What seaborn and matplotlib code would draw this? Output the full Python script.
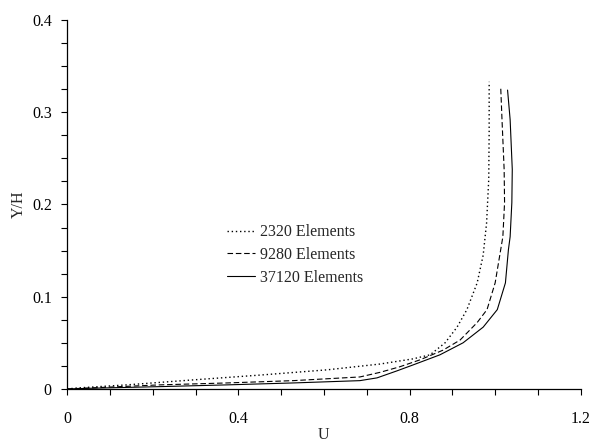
import matplotlib
matplotlib.use("Agg")
import matplotlib.pyplot as plt
import seaborn as sns
import pandas as pd
from matplotlib.ticker import MultipleLocator

# Data (U, Y/H)
u_2320 = [0.0, 0.022, 0.139, 0.294, 0.45, 0.607, 0.731, 0.808, 0.848, 0.883, 0.911, 0.934, 0.958, 0.972, 0.980, 0.985, 0.986, 0.986]
y_2320 = [0.0, 0.001, 0.0044, 0.0098, 0.015, 0.0207, 0.027, 0.0326, 0.037, 0.050, 0.067, 0.086, 0.115, 0.145, 0.18, 0.227, 0.28, 0.333]

u_9280 = [0.0, 0.06, 0.216, 0.373, 0.528, 0.684, 0.731, 0.777, 0.824, 0.878, 0.918, 0.958, 0.981, 1.0, 1.009, 1.018, 1.022, 1.021, 1.016, 1.013]
y_9280 = [0.0, 0.0012, 0.0044, 0.0065, 0.009, 0.013, 0.018, 0.024, 0.0315, 0.042, 0.053, 0.072, 0.086, 0.115, 0.140, 0.165, 0.202, 0.238, 0.292, 0.327]

u_37120 = [0.0, 0.06, 0.216, 0.373, 0.528, 0.684, 0.724, 0.77, 0.808, 0.871, 0.925, 0.972, 1.005, 1.024, 1.031, 1.035, 1.039, 1.040, 1.035, 1.029]
y_37120 = [0.0, 0.0008, 0.0025, 0.0044, 0.0065, 0.009, 0.012, 0.0195, 0.026, 0.037, 0.050, 0.067, 0.086, 0.115, 0.151, 0.165, 0.202, 0.238, 0.292, 0.324]

labels = ["2320 Elements", "9280 Elements", "37120 Elements"]
x_ticks = [0, 0.4, 0.8, 1.2]
x_tick_labels = ["0", "0.4", "0.8", "1.2"]
y_ticks = [0, 0.1, 0.2, 0.3, 0.4]
y_tick_labels = ["0", "0.1", "0.2", "0.3", "0.4"]

frames = []
for lab, u, y in zip(labels, [u_2320, u_9280, u_37120], [y_2320, y_9280, y_37120]):
    frames.append(pd.DataFrame({"U": u, "Y": y, "mesh": lab}))
df = pd.concat(frames, ignore_index=True)

sns.set_style("ticks")
plt.rcParams["font.family"] = ["Liberation Serif", "DejaVu Serif"]
FS = 11.5
plt.rcParams["font.size"] = FS

fig = plt.figure(figsize=(5.89, 4.44), dpi=100)
ax = fig.add_axes([0.114, 0.124, 0.872, 0.831])

styles = {"2320 Elements": ((0, (1, 2)), 1.0),
          "9280 Elements": ((0, (5, 2.5)), 0.8),
          "37120 Elements": ("-", 0.8)}

for lab in labels:
    sub = df[df["mesh"] == lab]
    ls, lw = styles[lab]
    sns.lineplot(data=sub, x="U", y="Y", sort=False, estimator=None,
                 color="black", linewidth=lw, ax=ax, label=lab)
    ax.lines[-1].set_linestyle(ls)

ax.set_xlim(0, 1.2)
ax.set_ylim(0, 0.4)
ax.set_xticks(x_ticks)
ax.set_xticklabels(x_tick_labels)
ax.set_yticks(y_ticks)
ax.set_yticklabels(y_tick_labels)
ax.xaxis.set_minor_locator(MultipleLocator(0.1))
ax.yaxis.set_minor_locator(MultipleLocator(0.025))
ax.tick_params(axis="both", which="both", direction="out", length=4, width=0.8, colors="black")
ax.tick_params(axis="x", which="major", pad=12, labelsize=FS)
ax.tick_params(axis="y", which="major", pad=7, labelsize=FS)
for s in ["top", "right"]:
    ax.spines[s].set_visible(False)
for s in ["left", "bottom"]:
    ax.spines[s].set_linewidth(0.9)
    ax.spines[s].set_color("black")

ax.set_xlabel("U", fontsize=FS, labelpad=0)
ax.set_ylabel("Y/H", fontsize=FS, labelpad=4)

leg = ax.legend(loc="upper left", bbox_to_anchor=(0.295, 0.468), frameon=False,
                handlelength=1.8, handletextpad=0.3, labelspacing=0.42,
                borderpad=0, fontsize=FS)

fig.savefig("out.png", dpi=100)
